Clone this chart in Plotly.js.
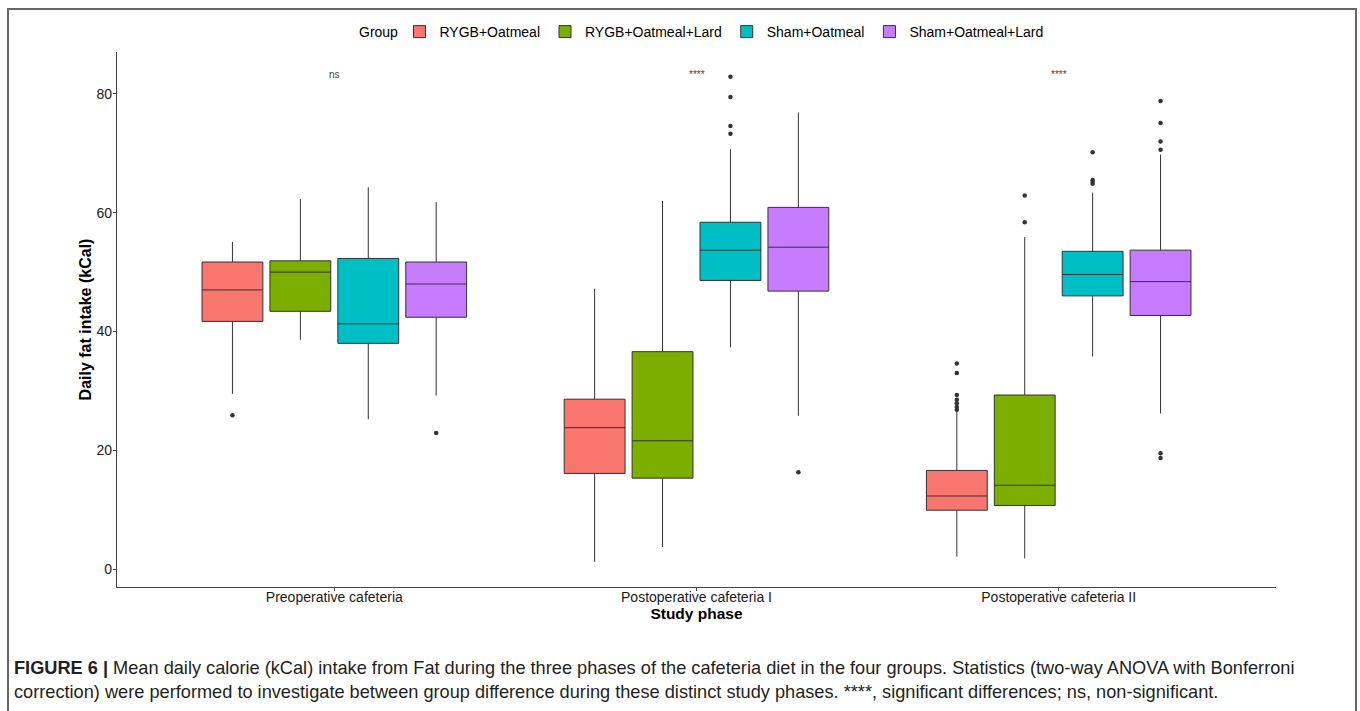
<!DOCTYPE html>
<html>
<head>
<meta charset="utf-8">
<script src="https://cdn.plot.ly/plotly-3.0.1.min.js"></script>
<style>
  html, body { margin: 0; padding: 0; background: #ffffff; }
  #chart { width: 1360px; height: 711px; }
</style>
</head>
<body>
<div id="chart"></div>
<script>
// ---------- data ----------
const phases = ['Preoperative cafeteria', 'Postoperative cafeteria I', 'Postoperative cafeteria II'];
const groups = ['RYGB+Oatmeal', 'RYGB+Oatmeal+Lard', 'Sham+Oatmeal', 'Sham+Oatmeal+Lard'];
const groupColors = ['#F8766D', '#7CAE00', '#00BFC4', '#C77CFF'];

// box statistics, indexed [group][phase]
const lowerWhisker = [[29.5, 1.2, 2.1], [38.6, 3.7, 1.8], [25.2, 37.3, 35.8], [29.2, 25.8, 26.2]];
const q1Values     = [[41.7, 16.1, 9.9], [43.4, 15.3, 10.7], [38.0, 48.6, 46.0], [42.4, 46.8, 42.7]];
const medianValues = [[47.0, 23.8, 12.3], [50.0, 21.6, 14.1], [41.3, 53.7, 49.6], [48.0, 54.2, 48.4]];
const q3Values     = [[51.7, 28.6, 16.6], [51.9, 36.6, 29.3], [52.3, 58.4, 53.5], [51.7, 60.9, 53.7]];
const upperWhisker = [[55.1, 47.2, 26.5], [62.3, 62.0, 55.9], [64.3, 70.7, 63.4], [61.8, 76.9, 69.8]];

// outliers, per group: phase index and value
const outlierPhase = [
  [0, 2, 2, 2, 2, 2, 2, 2],
  [2, 2],
  [1, 1, 1, 1, 2, 2, 2, 2],
  [0, 1, 2, 2, 2, 2, 2, 2]
];
const outlierValue = [
  [25.9, 34.6, 33.0, 29.3, 28.5, 27.9, 27.3, 26.8],
  [62.9, 58.4],
  [82.9, 79.5, 74.6, 73.3, 70.2, 65.5, 65.2, 64.9],
  [22.9, 16.3, 78.8, 75.1, 72.0, 70.6, 19.5, 18.7]
];

// significance labels per phase
const sigLabels = ['ns', '****', '****'];
const sigY = [83.3, 83.3, 83.3];

const yTicks = [0, 20, 40, 60, 80];
const legendTitle = 'Group';
const captionLine1Bold = 'FIGURE 6 |';
const captionLine1 = ' Mean daily calorie (kCal) intake from Fat during the three phases of the cafeteria diet in the four groups. Statistics (two-way ANOVA with Bonferroni';
const captionLine2 = 'correction) were performed to investigate between group difference during these distinct study phases. ****, significant differences; ns, non-significant.';

// ---------- layout helpers ----------
const dodge = 0.75 / groups.length;   // ggplot-like dodge spacing
const boxWidth = 0.168;
const W = 1360, H = 711;
const margin = { l: 117, r: 84, t: 52, b: 124 };
const plotW = W - margin.l - margin.r;
const plotH = H - margin.t - margin.b;
const px2paperX = px => (px - margin.l) / plotW;
const px2paperY = py => (H - margin.b - py) / plotH;
const FONT = 'Liberation Sans, Arial, sans-serif';

const traces = [];
groups.forEach((g, gi) => {
  const offset = (gi - (groups.length - 1) / 2) * dodge;
  traces.push({
    type: 'box',
    name: g,
    legendgroup: g,
    x: phases.map((p, pi) => pi + offset),
    q1: q1Values[gi],
    median: medianValues[gi],
    q3: q3Values[gi],
    lowerfence: lowerWhisker[gi],
    upperfence: upperWhisker[gi],
    width: boxWidth,
    whiskerwidth: 0,
    boxpoints: false,
    fillcolor: groupColors[gi],
    line: { color: '#333333', width: 1 },
    hoverinfo: 'skip'
  });
});
groups.forEach((g, gi) => {
  const offset = (gi - (groups.length - 1) / 2) * dodge;
  traces.push({
    type: 'scatter',
    mode: 'markers',
    name: g + ' outliers',
    legendgroup: g,
    showlegend: false,
    x: outlierPhase[gi].map(pi => pi + offset),
    y: outlierValue[gi],
    marker: { color: '#333333', size: 4.5 },
    hoverinfo: 'skip'
  });
});

const annotations = phases.map((p, pi) => ({
  x: pi, y: sigY[pi], xref: 'x', yref: 'y',
  text: sigLabels[pi], showarrow: false,
  font: { family: FONT, size: 10, color: '#444444' },
  xanchor: 'center', yanchor: 'middle'
}));
annotations.push({
  xref: 'paper', yref: 'paper', x: px2paperX(378), y: px2paperY(32),
  xanchor: 'center', yanchor: 'middle', showarrow: false,
  text: legendTitle,
  font: { family: FONT, size: 14, color: '#000000' }
});
annotations.push({
  xref: 'paper', yref: 'paper', x: px2paperX(12), y: px2paperY(668),
  xanchor: 'left', yanchor: 'middle', showarrow: false, align: 'left',
  text: '<b>' + captionLine1Bold + '</b>' + captionLine1,
  font: { family: FONT, size: 18.2, color: '#231f20' }
});
annotations.push({
  xref: 'paper', yref: 'paper', x: px2paperX(12), y: px2paperY(692),
  xanchor: 'left', yanchor: 'middle', showarrow: false, align: 'left',
  text: captionLine2,
  font: { family: FONT, size: 18.2, color: '#231f20' }
});

const layout = {
  width: W, height: H,
  margin: margin,
  paper_bgcolor: '#ffffff',
  plot_bgcolor: '#ffffff',
  font: { family: FONT, color: '#000000' },
  boxmode: 'overlay',
  showlegend: true,
  legend: {
    orientation: 'h',
    x: px2paperX(724), xanchor: 'center',
    y: px2paperY(32), yanchor: 'middle',
    font: { size: 14, color: '#000000' },
    itemwidth: 30,
    traceorder: 'normal',
    bgcolor: 'rgba(0,0,0,0)'
  },
  xaxis: {
    range: [-0.6, 2.6],
    tickmode: 'array',
    tickvals: phases.map((p, i) => i),
    ticktext: phases,
    showline: true, linecolor: '#444444', linewidth: 1.2,
    ticks: 'outside', ticklen: 3, tickcolor: '#444444',
    ticklabelstandoff: -6,
    showgrid: false, zeroline: false,
    tickfont: { size: 14, color: '#1a1a1a' },
    title: { text: '<b>Study phase</b>', font: { size: 15.5, color: '#000000' }, standoff: 0 }
  },
  yaxis: {
    range: [-3.03, 87.07],
    tickmode: 'array',
    tickvals: yTicks,
    ticktext: yTicks.map(String),
    showline: true, linecolor: '#444444', linewidth: 1.2,
    ticks: 'outside', ticklen: 3, tickcolor: '#444444',
    ticklabelstandoff: -2,
    showgrid: false, zeroline: false,
    tickfont: { size: 14, color: '#1a1a1a' },
    title: { text: '<b>Daily fat intake (kCal)</b>', font: { size: 16, color: '#000000' }, standoff: 0 }
  },
  annotations: annotations,
  shapes: [{
    type: 'rect', xref: 'paper', yref: 'paper',
    x0: px2paperX(8), x1: px2paperX(1356),
    y0: px2paperY(730), y1: px2paperY(9),
    line: { color: '#666666', width: 2 },
    fillcolor: 'rgba(0,0,0,0)',
    layer: 'below'
  }]
};

Plotly.newPlot('chart', traces, layout, { displayModeBar: false, staticPlot: true });
</script>
</body>
</html>
